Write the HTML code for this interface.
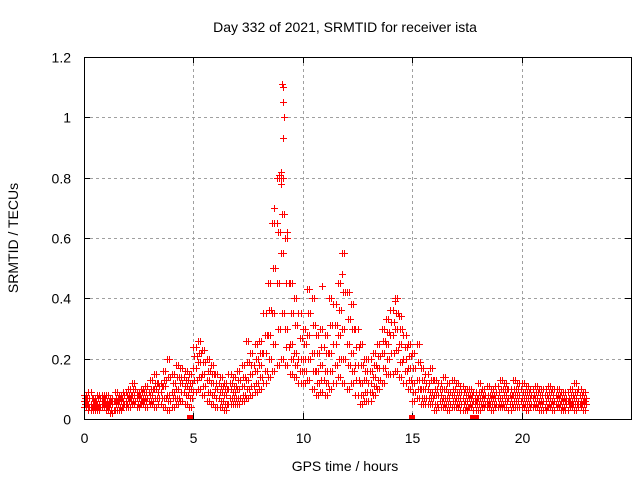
<!DOCTYPE html>
<html><head><meta charset="utf-8"><style>
body{margin:0;background:#fff}
svg{display:block;font-family:"Liberation Sans",sans-serif}
</style></head><body>
<svg id="chart" width="640" height="480" viewBox="0 0 640 480">
<rect width="640" height="480" fill="#fff"/>
<text x="345" y="32" font-size="14" text-anchor="middle">Day 332 of 2021, SRMTID for receiver ista</text>
<text x="345" y="471" font-size="14" text-anchor="middle">GPS time / hours</text>
<text transform="translate(18,238) rotate(-90)" font-size="14" text-anchor="middle">SRMTID / TECUs</text>
<g id="grid"></g>
<g id="ticks"></g>
<g id="marks"></g>
<rect x="84.5" y="57.5" width="547" height="362" fill="none" stroke="#000"/>
</svg>
<script>
const xTicks=[0,5,10,15,20];
const yTicks=[0,0.2,0.4,0.6,0.8,1.0,1.2];
const yTickLabels=["0","0.2","0.4","0.6","0.8","1","1.2"];
const step=0.2;
const lo=[.04,.03,.03,.03,.04,.03,.02,.03,.03,.04,.04,.05,.04,.05,.04,.05,.04,.05,.04,.03,.04,.05,.06,.05,.04,.09,.10,.08,.06,.05,.04,.04,.03,.05,.05,.05,.06,.07,.08,.09,.10,.12,.14,.16,.18,.20,.18,.15,.14,.12,.12,.13,.10,.08,.09,.08,.10,.12,.14,.12,.10,.12,.08,.05,.06,.06,.08,.10,.12,.15,.15,.16,.14,.12,.10,.06,.07,.05,.05,.05,.03,.04,.04,.03,.04,.04,.03,.03,.04,.03,.03,.04,.04,.03,.04,.04,.04,.03,.04,.04,.04,.03,.04,.04,.03,.03,.04,.03,.04,.03,.03,.04,.03,.04,.03];
const q1=[.05,.04,.04,.04,.05,.04,.03,.05,.04,.05,.06,.06,.05,.06,.06,.06,.07,.07,.07,.06,.07,.07,.09,.08,.07,.13,.14,.11,.09,.08,.07,.06,.05,.07,.07,.07,.08,.10,.11,.12,.14,.16,.20,.25,.30,.35,.24,.20,.18,.16,.16,.20,.16,.12,.13,.12,.16,.18,.20,.20,.18,.16,.13,.08,.09,.09,.11,.13,.17,.20,.22,.23,.19,.16,.13,.09,.10,.07,.07,.07,.05,.06,.05,.05,.06,.05,.05,.04,.05,.05,.05,.05,.05,.05,.05,.05,.06,.05,.06,.06,.05,.05,.05,.05,.05,.04,.05,.05,.05,.04,.05,.05,.05,.05,.05];
const mid=[.06,.05,.05,.05,.06,.05,.05,.06,.06,.06,.07,.08,.07,.07,.07,.08,.10,.09,.11,.08,.09,.10,.12,.11,.10,.17,.19,.15,.13,.12,.10,.09,.08,.10,.09,.10,.11,.13,.15,.16,.18,.22,.28,.35,.45,.55,.30,.25,.22,.20,.20,.28,.22,.16,.18,.16,.22,.25,.28,.30,.25,.22,.18,.12,.13,.12,.14,.17,.22,.25,.28,.30,.25,.20,.17,.12,.13,.10,.10,.09,.08,.08,.07,.07,.08,.07,.07,.06,.07,.06,.07,.07,.06,.07,.07,.07,.08,.07,.08,.08,.07,.07,.07,.07,.06,.06,.07,.06,.07,.06,.06,.06,.07,.06,.06];
const q3=[.07,.07,.06,.07,.07,.06,.06,.07,.07,.08,.08,.10,.08,.09,.09,.10,.12,.11,.13,.14,.12,.14,.14,.13,.12,.21,.22,.19,.16,.15,.12,.11,.10,.12,.11,.13,.14,.19,.18,.20,.22,.28,.36,.50,.62,.68,.45,.35,.31,.27,.25,.35,.31,.22,.24,.22,.31,.31,.36,.42,.33,.30,.24,.18,.16,.16,.18,.21,.26,.29,.32,.35,.30,.24,.21,.17,.19,.13,.12,.13,.10,.10,.10,.09,.10,.09,.09,.08,.08,.07,.09,.08,.08,.08,.09,.10,.10,.08,.10,.10,.09,.09,.08,.09,.08,.08,.09,.08,.08,.07,.07,.08,.09,.08,.07];
const hi=[.08,.09,.07,.08,.08,.08,.07,.09,.08,.09,.10,.12,.09,.10,.11,.13,.15,.12,.16,.20,.15,.18,.17,.16,.15,.24,.26,.23,.20,.18,.15,.14,.12,.15,.14,.16,.18,.26,.22,.25,.26,.35,.45,.65,.80,.80,.60,.45,.40,.35,.30,.43,.40,.28,.30,.28,.40,.38,.45,.55,.42,.38,.30,.25,.20,.20,.22,.25,.30,.33,.36,.40,.34,.28,.25,.22,.25,.17,.15,.17,.13,.12,.14,.12,.13,.12,.11,.10,.10,.09,.12,.10,.11,.10,.11,.13,.12,.10,.13,.12,.12,.11,.10,.11,.10,.10,.11,.10,.10,.09,.09,.10,.12,.10,.09];
const outT=[9.05,9.1,9.1,9.12,9.08,8.9,9.0,9.0,8.7,8.8,9.3,11.8,11.8,10.9,14.2];
const outV=[1.11,1.1,1.05,1.0,0.93,0.81,0.82,0.78,0.7,0.65,0.62,0.55,0.48,0.44,0.39];
const zeroT=[4.85,15.0,17.8,17.9];
const X=t=>84+t*(547/25), Y=v=>419-v*(362/1.2);
const NS="http://www.w3.org/2000/svg";
const grid=document.getElementById('grid'),ticks=document.getElementById('ticks'),marks=document.getElementById('marks');
function mk(tag,attrs,parent){const e=document.createElementNS(NS,tag);for(const k in attrs)e.setAttribute(k,attrs[k]);parent.appendChild(e);return e;}
xTicks.forEach(t=>{const x=Math.round(X(t))+.5;
 if(t>0){const g=mk('line',{x1:x,x2:x,y1:57,y2:419,stroke:'#a0a0a0','stroke-dasharray':'3,3'},grid);}
 const tk=mk('path',{d:`M${x} 419v-6M${x} 57v6`,stroke:'#000'},ticks);
 const l=mk('text',{x:x,y:443,'font-size':14,'text-anchor':'middle'},ticks);l.textContent=t;});
yTicks.forEach((v,i)=>{const y=Math.round(Y(v))+.5;
 if(v>0&&v<1.2){const g=mk('line',{x1:84,x2:631,y1:y,y2:y,stroke:'#a0a0a0','stroke-dasharray':'3,3'},grid);}
 const tk=mk('path',{d:`M84 ${y}h6M631 ${y}h-6`,stroke:'#000'},ticks);
 const l=mk('text',{x:71,y:y+5,'font-size':14,'text-anchor':'end'},ticks);l.textContent=yTickLabels[i];});
let d='';
function cross(t,v){const x=Math.round(X(t)),y=Math.round(Y(v));d+=`M${x-3} ${y}h7v1h-7zM${x} ${y-3}h1v7h-1z`;}
[[lo,0],[q1,0.05],[mid,0],[q3,0.05],[hi,0]].forEach(([arr,off])=>arr.forEach((v,i)=>{cross(i*step+off,v);cross(i*step+off+step/2,v);}));
outT.forEach((t,i)=>cross(t,outV[i]));
const p=mk('path',{d:d,fill:'#ff0000','fill-rule':'nonzero','shape-rendering':'crispEdges'},marks);


zeroT.forEach(t=>{const r=mk('rect',{x:Math.round(X(t))-3,y:415,width:6,height:5,fill:'#ff0000'},marks);});
</script>
</body></html>
